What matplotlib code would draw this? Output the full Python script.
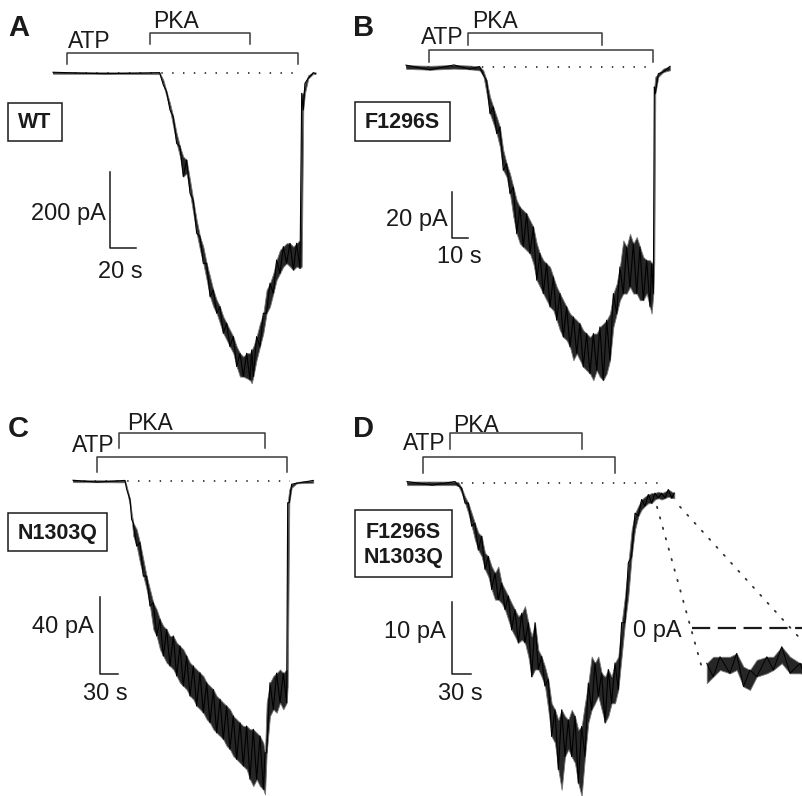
import matplotlib
matplotlib.use("Agg")
import matplotlib.pyplot as plt
from matplotlib.patches import Rectangle, ConnectionPatch
from matplotlib.transforms import blended_transform_factory
import numpy as np

plt.rcParams['font.family'] = ['Liberation Sans', 'DejaVu Sans']

# ---------------- data (time in s, current in pA; upper / lower edge of the noisy trace) ----------------
# Panel A: WT
tA = [0, 40, 82, 84.9, 87.4, 90.0, 92.5, 95.1, 97.7, 100.2, 102.8, 105.4, 107.9, 110.5, 113.1, 115.6,
      118.2, 120.8, 123.3, 125.9, 128.4, 131.0, 133.6, 136.1, 138.7, 141.3, 143.8, 146.4, 149.0, 151.5,
      152.8, 154.1, 156.6, 159.2, 161.8, 164.3, 166.9, 169.5, 172.0, 174.6, 177.2, 179.7, 182.3, 184.9,
      187.4, 190.0, 191.3, 192.5, 193.8, 196.4, 200.2, 202]
hiA = [2, 2, 1, -18.4, -49.1, -79.8, -114.9, -158.7, -193.8, -220.1, -228.9, -281.5, -334.1, -386.8,
       -430.6, -456.9, -500.8, -535.8, -570.9, -597.2, -614.8, -641.1, -658.6, -676.2, -693.7, -720.0,
       -737.5, -746.3, -737.5, -737.5, -728.8, -720.0, -693.7, -658.6, -632.3, -570.9, -553.4, -527.1,
       -492.0, -465.7, -456.9, -448.1, -448.1, -456.9, -448.1, -439.4, -53.5, -53.5, -27.2, -5.3, 1, 2]
loA = [-2, -2, -3, -31.6, -62.3, -97.3, -141.2, -185.0, -220.1, -272.7, -264.0, -316.6, -369.2, -421.8,
       -465.7, -500.8, -544.6, -588.5, -614.8, -632.3, -658.6, -684.9, -702.5, -720.0, -737.5, -772.6,
       -798.9, -798.9, -803.3, -807.7, -816.5, -798.9, -755.1, -720.0, -684.9, -632.3, -614.8, -579.7,
       -544.6, -527.1, -509.5, -500.8, -509.5, -518.3, -509.5, -513.9, -509.5, -97.3, -53.5, -14.0, -2, -2]
atpA = [10.8, 188.5]
pkaA = [74.6, 151.5]
baseA = [0, 190]
barA = [200, 20]   # pA, s

# Panel B: F1296S
tB = [0, 15, 30, 40, 46, 48.3, 50.4, 52.5, 54.6, 56.7, 58.7, 60.8, 62.9, 65.0, 67.1, 69.2, 71.2, 73.3,
      75.4, 77.5, 79.6, 81.7, 83.7, 85.8, 87.9, 90.0, 92.1, 94.2, 96.2, 98.3, 100.4, 102.5, 104.6, 106.7,
      108.7, 110.8, 112.9, 115.0, 117.1, 119.2, 121.2, 123.3, 125.4, 127.5, 129.6, 131.7, 133.7, 135.8,
      137.9, 140.0, 142.1, 144.2, 146.2, 148.3, 150.4, 152.5, 153.5, 154.6, 155.2, 155.8, 157.7, 160.8,
      165.0]
hiB = [0.8, 0.5, 0.9, 0.6, 0.2, -1.4, -5.8, -13.0, -17.4, -21.7, -26.1, -36.2, -42.0, -46.4, -52.2,
       -58.0, -60.9, -62.3, -63.8, -66.7, -69.6, -76.8, -81.1, -84.0, -85.5, -86.9, -91.3, -95.6, -98.5,
       -101.4, -104.3, -107.2, -108.7, -110.1, -111.6, -114.5, -115.9, -117.4, -115.9, -115.9, -113.0,
       -111.6, -110.1, -107.2, -98.5, -94.2, -86.9, -75.4, -78.2, -72.5, -76.8, -73.9, -78.2, -82.6,
       -84.0, -84.0, -85.5, -84.0, -8.7, -4.3, -2.9, -0.7, 0.3]
loB = [-0.8, -1.2, -0.7, -1.0, -1.5, -3.6, -11.6, -20.3, -24.6, -29.0, -34.8, -44.9, -47.8, -55.1,
       -65.2, -72.5, -76.8, -78.2, -79.7, -81.1, -85.5, -92.7, -95.6, -98.5, -101.4, -104.3, -105.8,
       -110.1, -114.5, -117.4, -118.8, -121.7, -127.5, -124.6, -127.5, -130.4, -131.9, -133.3, -136.2,
       -131.9, -134.8, -136.2, -133.3, -127.5, -113.0, -107.2, -101.4, -98.5, -98.5, -95.6, -98.5, -98.5,
       -101.4, -101.4, -98.5, -104.3, -107.2, -98.5, -84.0, -11.6, -4.3, -2.2, -1.4]
atpB = [14.4, 154.4]
pkaB = [38.8, 122.5]
baseB = [0, 154]
barB = [20, 10]

# Panel C: N1303Q
tC = [0, 40, 86.6, 89.4, 95.0, 97.7, 100.5, 106.1, 111.6, 117.2, 122.7, 128.3, 133.9, 139.4, 145.0,
      150.5, 156.1, 161.6, 167.2, 172.8, 178.3, 183.9, 189.4, 195.0, 200.5, 206.1, 211.6, 217.2, 222.8,
      228.3, 233.9, 239.4, 245.0, 250.5, 256.1, 261.6, 267.2, 272.8, 278.3, 283.9, 289.4, 295.0, 300.5,
      306.1, 311.6, 317.2, 320.0, 322.8, 328.3, 333.9, 339.4, 345.0, 350.5, 356.1, 357.8, 360.5, 364.4,
      372.8, 400.5]
hiC = [0.4, 0.4, 0.3, -2.6, -9.5, -16.5, -21.7, -25.1, -32.0, -40.7, -49.4, -56.3, -63.2, -66.7, -71.9,
       -75.3, -77.1, -80.5, -80.5, -84.0, -85.7, -87.5, -90.9, -94.4, -96.1, -97.9, -99.6, -101.3,
       -104.8, -106.5, -108.3, -111.7, -113.4, -115.2, -116.9, -118.6, -122.1, -123.8, -125.6, -127.3,
       -127.3, -129.0, -129.0, -130.8, -132.5, -136.0, -141.2, -115.2, -104.8, -101.3, -99.8, -97.9,
       -99.8, -97.9, -11.3, -4.3, -1.7, -0.5, 0.3]
loC = [-0.6, -0.6, -0.7, -4.3, -13.0, -19.9, -28.6, -33.8, -42.4, -49.4, -56.3, -65.0, -77.1, -80.5,
       -87.5, -90.9, -94.4, -96.1, -97.9, -101.3, -104.8, -106.5, -108.3, -111.7, -113.4, -116.9,
       -118.6, -120.4, -123.8, -125.6, -129.0, -130.8, -132.5, -134.2, -137.7, -139.4, -142.9, -144.6,
       -146.4, -148.1, -149.8, -155.0, -158.5, -155.0, -158.5, -160.2, -162.8, -141.2, -122.1, -118.6,
       -120.4, -115.2, -118.6, -115.2, -106.5, -11.3, -3.5, -1.2, -0.9]
atpC = [40, 356.7]
pkaC = [76.7, 320]
baseC = [0, 362]
barC = [40, 30]

# Panel D: F1296S/N1303Q
tD = [0, 40, 76.2, 81.5, 86.8, 92.1, 97.4, 102.7, 107.9, 113.2, 118.5, 123.8, 129.1, 134.4, 139.7,
      145.0, 150.3, 155.6, 160.8, 166.1, 171.4, 176.7, 182.0, 187.3, 192.6, 197.9, 203.2, 208.5, 213.7,
      219.0, 224.3, 229.6, 234.9, 240.2, 245.5, 250.8, 256.1, 261.4, 266.6, 271.9, 277.2, 282.5, 287.8,
      293.1, 298.4, 303.7, 309.0, 314.3, 319.5, 324.8, 330.1, 335.4, 340.7, 346.0, 351.3, 356.6, 361.9,
      367.2, 372.4, 377.7, 383.0, 388.3, 393.6, 398.9, 404.2, 409.5, 414.8, 420.1, 424.3]
hiD = [0.2, 0.2, 0.2, 0.1, -0.7, -1.9, -2.8, -4.2, -5.6, -6.9, -7.4, -9.7, -10.2, -11.6, -12.5, -11.6,
       -13.9, -14.8, -15.7, -16.7, -17.6, -18.5, -18.1, -17.1, -19.4, -21.3, -19.4, -23.2, -24.1, -25.5,
       -27.3, -30.6, -31.5, -32.9, -31.5, -32.4, -32.9, -31.5, -32.4, -34.3, -33.8, -30.6, -27.8, -24.1,
       -25.0, -24.1, -26.4, -26.9, -25.9, -26.9, -25.0, -24.1, -19.4, -15.7, -11.1, -6.5, -4.2, -3.2,
       -2.3, -1.9, -1.6, -1.4, -1.4, -1.2, -1.4, -1.2, -0.9, -1.2, -1.4]
loD = [-0.3, -0.3, -0.3, -0.4, -1.4, -2.8, -4.2, -6.0, -7.9, -9.3, -10.2, -12.0, -13.0, -14.8, -16.2,
       -16.2, -16.7, -17.6, -19.0, -20.4, -21.3, -22.2, -21.8, -22.2, -24.1, -26.9, -25.9, -25.9, -26.9,
       -28.2, -31.5, -35.2, -36.1, -39.8, -42.6, -38.0, -37.0, -38.0, -38.9, -41.7, -43.5, -38.0, -33.3,
       -31.5, -30.6, -29.6, -31.5, -33.3, -32.4, -30.6, -30.6, -28.7, -24.1, -19.4, -15.7, -10.2, -6.5,
       -4.6, -3.7, -3.2, -2.8, -2.8, -2.3, -2.1, -2.3, -2.1, -1.9, -2.1, -2.1]
atpD = [25.4, 330.2]
pkaD = [68.3, 277.8]
baseD = [0, 413]
barD = [10, 30]
# magnified end of trace D (inset)
tDi = [396.7, 399.2, 401.8, 405.6, 408.2, 410.8, 413.3, 415.9, 419.8, 422.3, 425.5, 428.7, 432.6, 434]
hiDi = [-1.68, -1.37, -1.37, -1.37, -1.21, -1.84, -2.0, -1.52, -1.37, -1.37, -0.89, -1.37, -1.68, -1.6]
loDi = [-2.63, -2.32, -2.0, -2.16, -2.0, -2.79, -2.95, -2.32, -2.16, -2.0, -1.68, -2.16, -2.16, -2.2]

labels = ['A', 'B', 'C', 'D']
mutants = ['WT', 'F1296S', 'N1303Q', 'F1296S\nN1303Q']

# ---------------- layout ----------------
W, H = 802, 796
fig = plt.figure(figsize=(W / 100, H / 100), dpi=100)
INK = '#1a1a1a'
GREY = '#3a3a3a'


def fx(x):
    return x / W


def fy(y):
    return 1 - y / H


def make_axes(box, origin, scale):
    L, T, R, B = box
    x0, y0 = origin
    sx, sy = scale
    ax = fig.add_axes([L / W, 1 - B / H, (R - L) / W, (B - T) / H])
    ax.set_xlim((L - x0) / sx, (R - x0) / sx)
    ax.set_ylim(-(B - y0) / sy, -(T - y0) / sy)
    ax.axis('off')
    return ax


def draw_trace(ax, t, hi, lo, lw=0.8, clip=False):
    t = np.asarray(t, float); hi = np.asarray(hi, float); lo = np.asarray(lo, float)
    ax.fill_between(t, lo, hi, color='#262626', lw=0.6, ec='#7a7a7a', clip_on=clip)
    # noisy trace: a sawtooth running between the read upper and lower edges
    even = np.arange(len(t)) % 2 == 0
    ys = np.where(even, hi, lo)
    ax.plot(t, ys, color='black', lw=lw, clip_on=clip)


def bracket(ax, span, ytop, ybot):
    tr = blended_transform_factory(ax.transData, fig.transFigure)
    ax.plot([span[0], span[0], span[1], span[1]], [fy(ybot), fy(ytop), fy(ytop), fy(ybot)],
            transform=tr, color=GREY, lw=1.1, clip_on=False)


def scalebar(ax, t, i, bar):
    di, dt = bar
    ax.plot([t, t, t + dt], [i + di, i, i], color=INK, lw=1.1, clip_on=False)


def baseline(ax, span):
    ax.plot(span, [0, 0], color='#333333', lw=1.3, ls=(0, (0.8, 5.2)), clip_on=False)


def box(L, T, R, B):
    fig.add_artist(Rectangle((fx(L), fy(B)), (R - L) / W, (B - T) / H, transform=fig.transFigure,
                             fill=False, lw=1.1, ec=INK))


def txt(x, y, s, size=16.5, ha='left', va='baseline', weight='normal', **kw):
    fig.text(fx(x), fy(y), s, fontsize=size, ha=ha, va=va, weight=weight, color=INK, **kw)


panels = [
    dict(box=(0, 0, 401, 398), origin=(53, 73), scale=(1.3, 0.38), t=tA, hi=hiA, lo=loA,
         atp=atpA, pka=pkaA, base=baseA, bar=barA, bar_at=(43.8, -460.5),
         atp_y=(53, 64), pka_y=(33, 44), letter=(8, 36), atp_txt=(68, 48), pka_txt=(153, 28),
         mbox=(8, 103, 62, 141), bar_lbl=((106, 220), (98, 278))),
    dict(box=(401, 0, 802, 398), origin=(406, 67), scale=(1.6, 2.3), t=tB, hi=hiB, lo=loB,
         atp=atpB, pka=pkaB, base=baseB, bar=barB, bar_at=(28.75, -74.3),
         atp_y=(50, 62), pka_y=(33, 45), letter=(353, 36), atp_txt=(421, 44), pka_txt=(472, 28),
         mbox=(355, 102, 450, 141), bar_lbl=((448, 226), (437, 263))),
    dict(box=(0, 398, 401, 796), origin=(73, 481), scale=(0.6, 1.925), t=tC, hi=hiC, lo=loC,
         atp=atpC, pka=pkaC, base=baseC, bar=barC, bar_at=(45, -100.3),
         atp_y=(457, 472), pka_y=(433, 448), letter=(8, 437), atp_txt=(72, 452), pka_txt=(127, 430),
         mbox=(8, 513, 107, 551), bar_lbl=((94, 633), (83, 700))),
    dict(box=(401, 398, 802, 796), origin=(407, 483), scale=(0.63, 7.2), t=tD, hi=hiD, lo=loD,
         atp=atpD, pka=pkaD, base=baseD, bar=barD, bar_at=(71.4, -26.5),
         atp_y=(457, 473), pka_y=(433, 449), letter=(353, 437), atp_txt=(403, 450), pka_txt=(453, 432),
         mbox=(355, 510, 452, 577), bar_lbl=((446, 638), (438, 700))),
]

axes = []
for k, p in enumerate(panels):
    ax = make_axes(p['box'], p['origin'], p['scale'])
    axes.append(ax)
    baseline(ax, p['base'])
    draw_trace(ax, p['t'], p['hi'], p['lo'])
    bracket(ax, p['atp'], *p['atp_y'])
    bracket(ax, p['pka'], *p['pka_y'])
    scalebar(ax, *p['bar_at'], p['bar'])
    txt(*p['letter'], labels[k], size=21, weight='bold')
    txt(*p['atp_txt'], 'ATP')
    txt(*p['pka_txt'], 'PKA')
    L, T, R, B = p['mbox']
    box(L, T, R, B)
    fig.text(fx((L + R) / 2), fy((T + B) / 2 + 1), mutants[k], fontsize=15.5, weight='bold',
             ha='center', va='center', color=INK, linespacing=1.25)
    (xa, ya), (xs, ys) = p['bar_lbl']
    txt(xa, ya, f"{p['bar'][0]} pA", size=17, ha='right')
    txt(xs, ys, f"{p['bar'][1]} s", size=17)

# inset of panel D: magnified end of the trace
axI = make_axes((688, 600, 802, 700), (707, 628), (2.6, 21))
axI.set_xlim(389.5, 433.3)
draw_trace(axI, tDi, hiDi, loDi, lw=0.7, clip=True)
axI.plot([391, 440], [0, 0], color=INK, lw=1.6, ls=(0, (8.2, 3.4)), clip_on=True)
txt(633, 637, '0 pA', size=17)

axD = axes[3]
for pa, pb in [((396.8, -3.3), (395.3, -2.1)), ((433.3, -3.3), (433.3, -0.6))]:
    cp = ConnectionPatch(xyA=pa, coordsA='data', axesA=axD, xyB=pb, coordsB='data', axesB=axI,
                         color='#333333', lw=1.3, ls=(0, (0.8, 5.2)))
    fig.add_artist(cp)

fig.savefig('out.png', dpi=100)
